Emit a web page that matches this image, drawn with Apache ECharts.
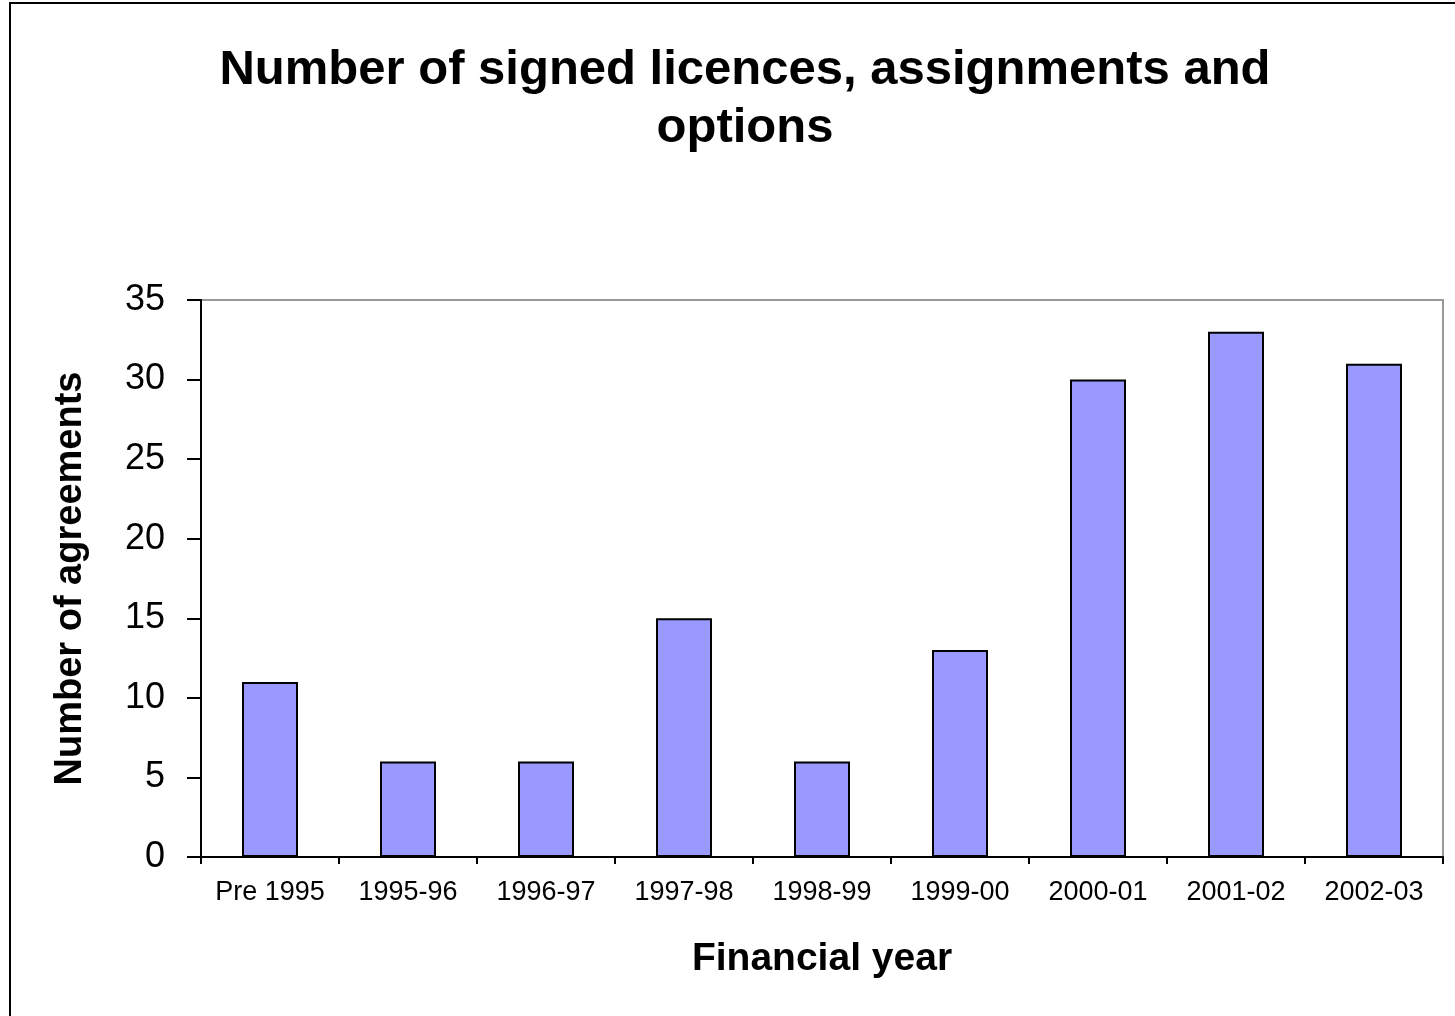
<!DOCTYPE html>
<html>
<head>
<meta charset="utf-8">
<script src="https://cdn.jsdelivr.net/npm/echarts@6/dist/echarts.min.js"></script>
<style>
  html, body { margin: 0; padding: 0; background: #fff; }
  #chart { width: 1455px; height: 1016px; }
</style>
</head>
<body>
<div id="chart"></div>
<script>
const years = ['Pre 1995', '1995-96', '1996-97', '1997-98', '1998-99', '1999-00', '2000-01', '2001-02', '2002-03']
const agreements = [11, 6, 6, 15, 6, 13, 30, 33, 31]

const chart = echarts.init(document.getElementById('chart'))
chart.setOption({
  backgroundColor: '#fff',
  textStyle: { fontFamily: 'Liberation Sans, Arial, sans-serif' },
  title: {
    text: 'Number of signed licences, assignments and\noptions',
    left: 740,
    top: 36,
    textAlign: 'center',
    textStyle: { fontSize: 49, fontWeight: 'bold', color: '#000', lineHeight: 58 }
  },
  graphic: [{
    type: 'rect',
    shape: { x: 10, y: 3, width: 1460, height: 1020 },
    style: { fill: 'none', stroke: '#000', lineWidth: 2 },
    silent: true
  }, {
    type: 'rect',
    shape: { x: 201, y: 300, width: 1242, height: 557 },
    style: { fill: 'none', stroke: '#999', lineWidth: 2 },
    silent: true
  }],
  grid: { left: 201, top: 300, right: 12, bottom: 159 },
  xAxis: {
    type: 'category',
    data: years,
    name: 'Financial year',
    nameLocation: 'middle',
    nameGap: 83,
    nameTextStyle: { fontSize: 39, fontWeight: 'bold', color: '#000' },
    axisLine: { lineStyle: { color: '#000', width: 2 } },
    axisTick: { show: true, interval: 0, length: 7, lineStyle: { color: '#000', width: 2 } },
    axisLabel: { interval: 0, fontSize: 27, color: '#000', margin: 22 }
  },
  yAxis: {
    type: 'value',
    min: 0,
    max: 35,
    interval: 5,
    name: 'Number of agreements',
    nameLocation: 'middle',
    nameGap: 111,
    nameTextStyle: { fontSize: 38, fontWeight: 'bold', color: '#000' },
    axisLine: { show: true, lineStyle: { color: '#000', width: 2 } },
    axisTick: { show: true, length: 14, lineStyle: { color: '#000', width: 2 } },
    axisLabel: { fontSize: 36, color: '#000', margin: 36 },
    splitLine: { show: false }
  },
  series: [{
    type: 'bar',
    data: agreements,
    barWidth: 56,
    itemStyle: { color: '#9999FF', borderColor: '#000', borderWidth: 2 }
  }]
})
</script>
</body>
</html>
